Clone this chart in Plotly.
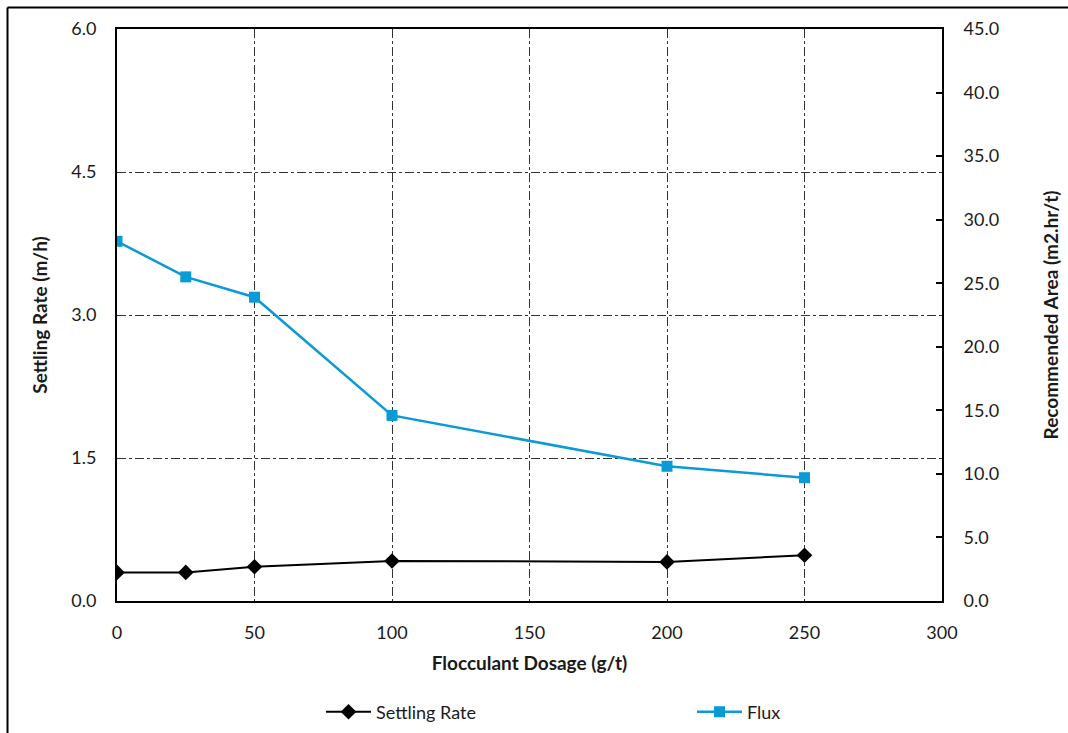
import plotly.graph_objects as go

dosage = [0, 25, 50, 100, 200, 250]
settling_rate = [0.30, 0.30, 0.36, 0.42, 0.41, 0.48]
flux = [28.3, 25.5, 23.9, 14.6, 10.6, 9.7]

left_ticks = [0.0, 1.5, 3.0, 4.5, 6.0]
right_ticks = [0, 5, 10, 15, 20, 25, 30, 35, 40, 45]
x_ticks = [0, 50, 100, 150, 200, 250, 300]

FONT = "Lato"
W, H = 1068, 733
L, R, T, B = 117, 126, 29, 132
PW, PH = W - L - R, H - T - B

fig = go.Figure()
fig.add_trace(go.Scatter(
    x=dosage, y=settling_rate, name="Settling Rate", mode="lines+markers",
    line=dict(color="black", width=2),
    marker=dict(symbol="diamond", size=12, color="black"),
))
fig.add_trace(go.Scatter(
    x=dosage, y=flux, name="Flux", mode="lines+markers", yaxis="y2",
    line=dict(color="#0A9AD6", width=2.5),
    marker=dict(symbol="square", size=11, color="#0A9AD6"),
))

fig.update_layout(
    width=W, height=H,
    margin=dict(l=L, r=R, t=T, b=B, autoexpand=False),
    paper_bgcolor="white", plot_bgcolor="white",
    font=dict(family=FONT, size=18, color="#1a1a1a"),
    xaxis=dict(
        range=[0, 300], tickvals=x_ticks, ticktext=[str(v) for v in x_ticks],
        showline=True, linecolor="black", linewidth=2, mirror=True,
        showgrid=True, gridcolor="#333333", gridwidth=1, griddash="dashdot",
        zeroline=False, ticks="", ticklabelstandoff=14,
        title=dict(text="<b>Flocculant Dosage (g/t)</b>", font=dict(size=19), standoff=15),
    ),
    yaxis=dict(
        range=[0, 6], tickvals=left_ticks, ticktext=[f"{v:.1f}" for v in left_ticks],
        showline=True, linecolor="black", linewidth=2,
        showgrid=True, gridcolor="#333333", gridwidth=1, griddash="dashdot",
        zeroline=False, ticks="", ticklabelstandoff=15,
        title=dict(text="<b>Settling Rate (m/h)</b>", font=dict(size=19), standoff=19),
    ),
    yaxis2=dict(
        range=[0, 45], tickvals=right_ticks, ticktext=[f"{v:.1f}" for v in right_ticks],
        overlaying="y", side="right",
        showline=True, linecolor="black", linewidth=2,
        showgrid=False, zeroline=False,
        ticks="inside", ticklen=6, tickcolor="black", tickwidth=2, ticklabelstandoff=16,
        title=dict(text="<b>Recommended Area (m2.hr/t)</b>", font=dict(size=19), standoff=47),
    ),
    legend=dict(
        orientation="h", x=(321 - L) / PW, xanchor="left",
        y=-(712 - (T + PH)) / PH, yanchor="middle",
        itemwidth=45,
        entrywidth=311, entrywidthmode="pixels",
        font=dict(size=18), bgcolor="rgba(0,0,0,0)",
    ),
    showlegend=True,
)

# outer chart border (top and left edges visible)
fig.add_shape(type="line", xref="paper", yref="paper",
              x0=(7.5 - L) / PW, x1=(W + 5 - L) / PW,
              y0=1 + (T - 7.5) / PH, y1=1 + (T - 7.5) / PH,
              line=dict(color="black", width=2))
fig.add_shape(type="line", xref="paper", yref="paper",
              x0=(7.5 - L) / PW, x1=(7.5 - L) / PW,
              y0=1 + (T - 7.5) / PH, y1=-(H + 5 - T - PH) / PH,
              line=dict(color="black", width=2))

fig.write_html("out.html")
